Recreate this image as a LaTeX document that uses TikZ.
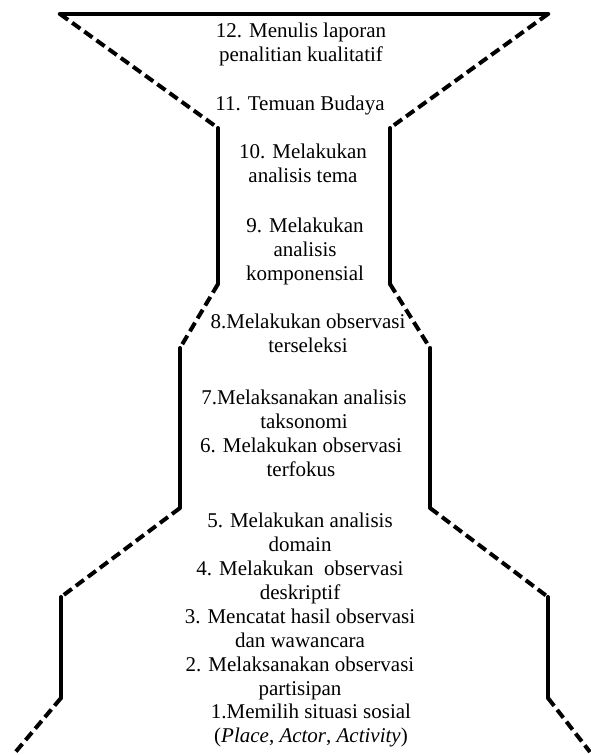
\documentclass[tikz,border=0pt]{standalone}
\usepackage{fontspec}
\setmainfont{Liberation Serif}
\begin{document}
\begin{tikzpicture}[x=1pt,y=-1pt,
  solidline/.style={line width=4pt, line cap=round, line join=round},
  dashline/.style={line width=4pt, dash pattern=on 10pt off 5pt},
  steptext/.style={align=center, anchor=base, inner sep=0pt, font=\fontsize{21}{24}\selectfont}]
\useasboundingbox (0,0) rectangle (590,755);
% left outline
\coordinate (L0) at (60,14);
\coordinate (L1) at (218,128);
\coordinate (L2) at (218,284);
\coordinate (L3) at (180,348);
\coordinate (L4) at (180,508);
\coordinate (L5) at (61,597);
\coordinate (L6) at (61,698);
\coordinate (L7) at (13,755);
% right outline
\coordinate (R0) at (548,14);
\coordinate (R1) at (390,128);
\coordinate (R2) at (390,284);
\coordinate (R3) at (430,348);
\coordinate (R4) at (430,508);
\coordinate (R5) at (548,597);
\coordinate (R6) at (548,698);
\coordinate (R7) at (590,752);
\draw[solidline, line width=4.5pt] (L0) -- (R0);
\draw[dashline] (L0) -- (L1);
\draw[solidline] (L1) -- (L2);
\draw[dashline] (L2) -- (L3);
\draw[solidline] (L3) -- (L4);
\draw[dashline] (L4) -- (L5);
\draw[solidline] (L5) -- (L6);
\draw[dashline] (L6) -- (L7);
\draw[dashline] (R0) -- (R1);
\draw[solidline] (R1) -- (R2);
\draw[dashline] (R2) -- (R3);
\draw[solidline] (R3) -- (R4);
\draw[dashline] (R4) -- (R5);
\draw[solidline] (R5) -- (R6);
\draw[dashline] (R6) -- (R7);
% texts (anchor = baseline of the last line)
\node[steptext] (s12) at (301,61) {12. Menulis laporan\\penalitian kualitatif};
\node[steptext] (s11) at (300,110) {11. Temuan Budaya};
\node[steptext] (s10) at (303,182) {10. Melakukan\\analisis tema};
\node[steptext] (s9) at (305,280) {9. Melakukan\\analisis\\komponensial};
\node[steptext] (s8) at (308,352) {8.Melakukan observasi\\terseleksi};
\node[steptext] (s7) at (304,428) {7.Melaksanakan analisis\\taksonomi};
\node[steptext] (s6) at (301,476) {6. Melakukan observasi\\terfokus};
\node[steptext] (s5) at (300,551) {5. Melakukan analisis\\domain};
\node[steptext] (s4) at (300,599) {4. Melakukan~ observasi\\deskriptif};
\node[steptext] (s3) at (300,647) {3. Mencatat hasil observasi\\dan wawancara};
\node[steptext] (s2) at (300,695) {2. Melaksanakan observasi\\partisipan};
\node[steptext] (s1) at (311,742) {1.Memilih situasi sosial\\(\textit{Place}, \textit{Actor}, \textit{Activity})};
\end{tikzpicture}
\end{document}
